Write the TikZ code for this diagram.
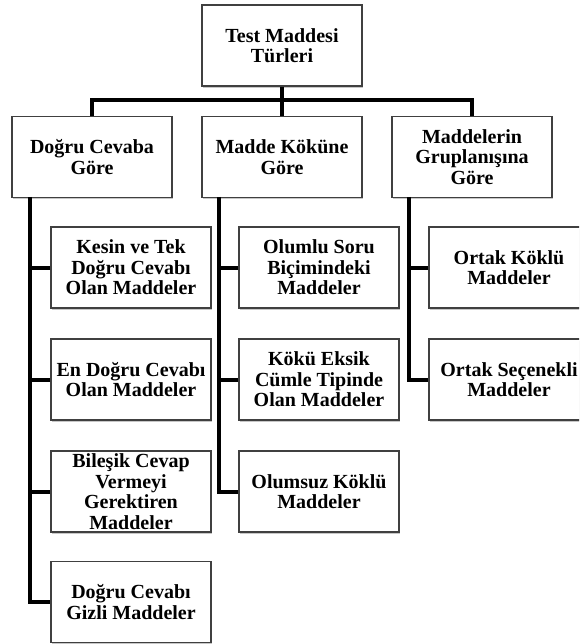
\documentclass[tikz,border=0pt]{standalone}
\usepackage{fontspec}
\setmainfont{Liberation Serif}
\usetikzlibrary{shadows}
\begin{document}
\begin{tikzpicture}[x=1pt,y=-1pt,
  box/.style={draw=black!75, line width=1.3pt, fill=white, align=center,
    minimum width=160pt, minimum height=81pt, inner sep=0pt,
    font=\bfseries\fontsize{20}{20.5}\selectfont,
    drop shadow={shadow xshift=1.2pt, shadow yshift=-1.8pt, opacity=0.22, fill=black}},
  link/.style={line width=4pt, line join=miter}]
\useasboundingbox (0,0) rectangle (579,644);
\clip (0,0) rectangle (579,644);
\fill[white] (0,0) rectangle (579,644);

% root
\node[box] (top) at (282,45.5) {Test Maddesi\\Türleri};

% first level
\node[box] (ga) at (92,157) {Doğru Cevaba\\Göre};
\node[box] (gb) at (282,157) {Madde Köküne\\Göre};
\node[box] (gc) at (472,157) {Maddelerin\\Gruplanışına\\Göre};

% children of the first column
\node[box] (a1) at (131,267.5) {Kesin ve Tek\\Doğru Cevabı\\Olan Maddeler};
\node[box] (a2) at (131,379.5) {En Doğru Cevabı\\Olan Maddeler};
\node[box] (a3) at (131,491.5) {Bileşik Cevap\\Vermeyi\\Gerektiren\\Maddeler};
\node[box] (a4) at (131,602) {Doğru Cevabı\\Gizli Maddeler};

% children of the second column
\node[box] (b1) at (319,267.5) {Olumlu Soru\\Biçimindeki\\Maddeler};
\node[box] (b2) at (319,379.5) {Kökü Eksik\\Cümle Tipinde\\Olan Maddeler};
\node[box] (b3) at (319,491.5) {Olumsuz Köklü\\Maddeler};

% children of the third column
\node[box] (c1) at (509,267.5) {Ortak Köklü\\Maddeler};
\node[box] (c2) at (509,379.5) {Ortak Seçenekli\\Maddeler};

% bus below the root
\coordinate (bus) at (282,100);
\draw[link] (top.south) -- (gb.north);
\draw[link] (ga.north) |- (bus) -| (gc.north);

% spines below the first-level boxes
\coordinate (sa) at (30,197);
\coordinate (sb) at (218.5,197);
\coordinate (sc) at (408.5,197);

\draw[link] (sa) |- (a4.west);
\foreach \n in {a1,a2,a3} \draw[link] (\n.west) -- (\n.west -| sa);

\draw[link] (sb) |- (b3.west);
\foreach \n in {b1,b2} \draw[link] (\n.west) -- (\n.west -| sb);

\draw[link] (sc) |- (c2.west);
\draw[link] (c1.west) -- (c1.west -| sc);
\end{tikzpicture}
\end{document}
